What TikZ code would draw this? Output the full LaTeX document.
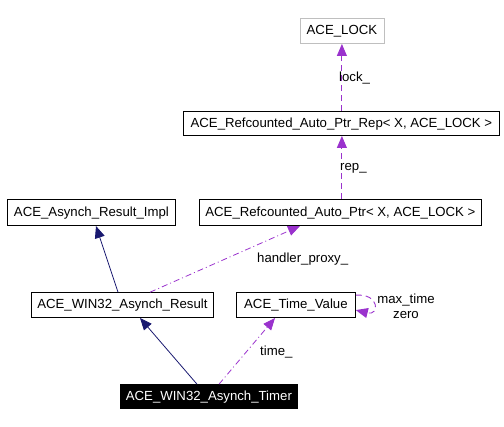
\documentclass[tikz,border=0pt]{standalone}
\usepackage{fontspec}
\setmainfont{Liberation Sans}
\usetikzlibrary{arrows.meta}
\definecolor{edgepurple}{HTML}{9A32CD}
\definecolor{edgenavy}{HTML}{191970}
\definecolor{lockgray}{HTML}{BFBFBF}
\begin{document}
\begin{tikzpicture}[x=1pt,y=1pt,
  cls/.style={draw=black,line width=0.8pt,inner sep=0pt,anchor=south west,font=\fontsize{13.2}{15}\selectfont,align=center},
  usedash/.style={draw=edgepurple,line width=0.9pt,dash pattern=on 6pt off 4pt,-{Triangle[length=12pt,width=10pt,fill=edgepurple]}},
  usedashdot/.style={draw=edgepurple,line width=0.8pt,dash pattern=on 6pt off 3pt on 1pt off 3pt,-{Triangle[length=12pt,width=10pt,fill=edgepurple]}},
  inherit/.style={draw=edgenavy,line width=0.8pt,-{Triangle[length=12pt,width=10pt,fill=edgenavy]}},
  lbl/.style={font=\fontsize{13.2}{15}\selectfont,inner sep=0pt}]
\useasboundingbox (0,0) rectangle (504,427);
% nodes (south west corner, width, height)
\node[cls,draw=lockgray,minimum width=84pt,minimum height=25pt] (lock) at (299.5,383) {ACE\_LOCK};
\node[cls,minimum width=316pt,minimum height=24pt] (rep) at (183,291) {ACE\_Refcounted\_Auto\_Ptr\_Rep< X, ACE\_LOCK >};
\node[cls,minimum width=282pt,minimum height=26pt] (ptr) at (199,201) {ACE\_Refcounted\_Auto\_Ptr< X, ACE\_LOCK >};
\node[cls,minimum width=168pt,minimum height=26pt] (impl) at (7,201) {ACE\_Asynch\_Result\_Impl};
\node[cls,minimum width=182pt,minimum height=25pt] (res) at (31,109) {ACE\_WIN32\_Asynch\_Result};
\node[cls,minimum width=119pt,minimum height=25pt] (tv) at (236,109) {ACE\_Time\_Value};
\node[cls,fill=black,text=white,minimum width=177pt,minimum height=24pt] (timer) at (120,18) {ACE\_WIN32\_Asynch\_Timer};
% edges
\draw[usedash] (rep.north -| lock.south) -- (lock.south);
\node[lbl,anchor=west] (lockl) at (339,349) {lock\_};
\draw[usedash] (ptr.north -| lock.south) -- (rep.south -| lock.south);
\node[lbl,anchor=west] (repl) at (340,259) {rep\_};
\draw[usedashdot] ([xshift=119pt]res.north west) -- ([xshift=101pt]ptr.south west);
\node[lbl,anchor=west] (hpl) at (257,168) {handler\_proxy\_};
\draw[inherit] ([xshift=87pt]res.north west) -- ([xshift=89pt]impl.south west);
\draw[inherit] ([xshift=77pt]timer.north west) -- ([xshift=109pt]res.south west);
\draw[usedashdot] ([xshift=99pt]timer.north west) -- ([xshift=39pt]tv.south west);
\node[lbl,anchor=west] (timel) at (260,75) {time\_};
\draw[usedash] ([yshift=-3pt]tv.north east) .. controls +(24pt,2pt) and +(24pt,-6pt) .. ([yshift=-5pt]tv.east);
\node[lbl,align=center] (loopl) at (406,121) {max\_time\\zero};
\end{tikzpicture}
\end{document}
